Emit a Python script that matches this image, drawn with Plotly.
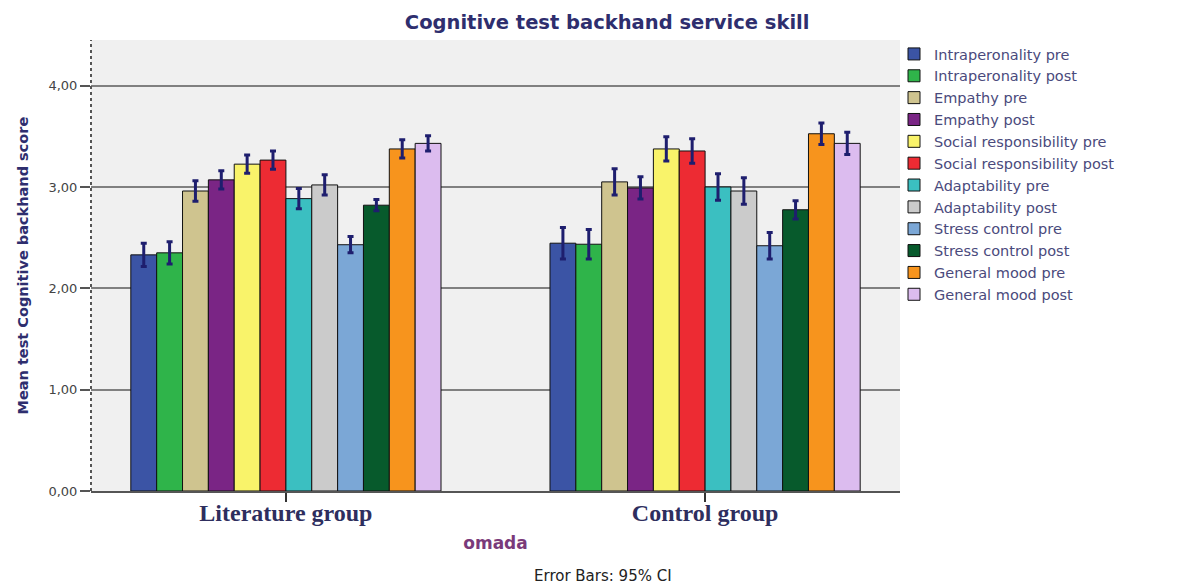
import plotly.graph_objects as go

groups = ["Literature group", "Control group"]
series = ["Intraperonality pre", "Intraperonality post", "Empathy pre", "Empathy post",
          "Social responsibility pre", "Social responsibility post", "Adaptability pre",
          "Adaptability post", "Stress control pre", "Stress control post",
          "General mood pre", "General mood post"]
literature_means = [2.33, 2.35, 2.96, 3.07, 3.225, 3.265, 2.885, 3.02, 2.43, 2.82, 3.375, 3.43]
literature_ci = [0.115, 0.11, 0.10, 0.09, 0.09, 0.09, 0.10, 0.10, 0.08, 0.055, 0.09, 0.075]
control_means = [2.445, 2.435, 3.05, 2.99, 3.375, 3.355, 3.00, 2.96, 2.42, 2.775, 3.525, 3.43]
control_ci = [0.155, 0.145, 0.13, 0.11, 0.12, 0.12, 0.13, 0.13, 0.13, 0.09, 0.105, 0.11]
colors = ["#3b54a5", "#2fb44a", "#cfc48f", "#7a2585", "#f9f36a", "#ed2b33",
          "#3bbfc1", "#cbcbcb", "#7ba7d6", "#075a2c", "#f7941d", "#dcbcef"]
y_ticks = [0, 1, 2, 3, 4]
y_tick_labels = ["0,00", "1,00", "2,00", "3,00", "4,00"]

# page body has an 8px margin; figure is sized/offset to compensate
W, H = 1196, 578
PLOT_W, PLOT_H = 809, 451

fig = go.Figure()
for i, name in enumerate(series):
    fig.add_trace(go.Bar(
        name=name,
        x=groups,
        y=[literature_means[i], control_means[i]],
        marker=dict(color=colors[i], line=dict(color="#111111", width=1)),
        error_y=dict(type="data", symmetric=True,
                     array=[literature_ci[i], control_ci[i]],
                     color="#1e1e6e", thickness=3, width=3),
    ))

fig.update_layout(
    width=W, height=H,
    margin=dict(l=83, r=W - 83 - PLOT_W, t=32, b=H - 32 - PLOT_H),
    paper_bgcolor="white",
    plot_bgcolor="#f0f0f0",
    barmode="group",
    bargap=0.26,
    bargroupgap=0,
    title=dict(text="Cognitive test backhand service skill",
               font=dict(family="DejaVu Sans", size=19.5, color="#2e2e6e", weight="bold"),
               x=0.638, xref="paper", xanchor="center",
               y=1 - 14 / H, yref="container", yanchor="middle"),
    legend=dict(x=1 - 6 / PLOT_W, xanchor="left", y=1 + 2 / PLOT_H, yanchor="top",
                font=dict(family="DejaVu Sans", size=14.5, color="#4a4a7c"),
                bgcolor="rgba(0,0,0,0)", traceorder="normal"),
    xaxis=dict(range=[-0.465, 1.465],
               showline=True, linecolor="#555555", linewidth=2,
               ticks="outside", ticklen=9, tickcolor="#333333", tickwidth=2,
               ticklabelstandoff=-10,
               tickfont=dict(family="Liberation Serif", size=24, color="#2e2e5e", weight="bold"),
               title=dict(text="omada", standoff=12,
                          font=dict(family="DejaVu Sans", size=17, color="#7a3a7a", weight="bold"))),
    yaxis=dict(range=[0, 4.45],
               tickvals=y_ticks, ticktext=y_tick_labels,
               showgrid=True, gridcolor="#808080", gridwidth=2,
               zeroline=False, showline=False,
               ticks="outside", ticklen=10, tickcolor="#555555", tickwidth=2,
               tickfont=dict(family="DejaVu Sans", size=13, color="#444444")),
    shapes=[dict(type="line", xref="paper", yref="paper", x0=0, x1=0, y0=0, y1=1,
                 line=dict(color="#555555", width=2, dash="dot"))],
    annotations=[
        dict(text="Mean test Cognitive backhand score", textangle=-90,
             xref="paper", yref="paper", x=(22 - 91) / PLOT_W, y=0.5,
             xanchor="center", yanchor="middle", showarrow=False,
             font=dict(family="DejaVu Sans", size=14.5, color="#2e2e6e", weight="bold")),
        dict(text="Error Bars: 95% CI", xref="paper", yref="paper",
             x=(603 - 91) / PLOT_W, y=-(576 - 491) / PLOT_H,
             xanchor="center", yanchor="middle", showarrow=False,
             font=dict(family="DejaVu Sans", size=15, color="#222222")),
    ],
)

fig.write_html("out.html")
